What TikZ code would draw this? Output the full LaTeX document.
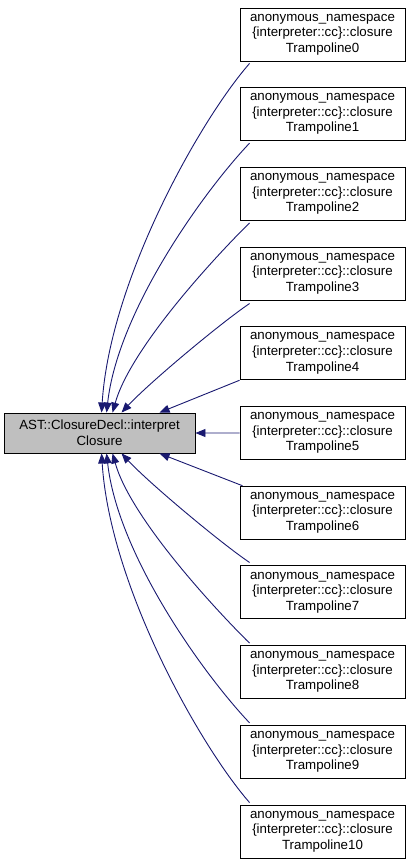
\documentclass[tikz,border=0pt]{standalone}
\usepackage{fontspec}
\setmainfont{Liberation Sans}
\usetikzlibrary{arrows.meta}
\definecolor{edgeblue}{RGB}{25,25,112}
\definecolor{boxgray}{RGB}{191,191,191}
\begin{document}
\begin{tikzpicture}[x=1pt,y=-1pt,
  fn/.style={draw=black,line width=0.9pt,fill=white,align=center,inner sep=0pt,
    minimum width=165pt,minimum height=53pt,font=\fontsize{13.3}{15.6}\selectfont},
  mainbox/.style={draw=black,line width=0.9pt,fill=boxgray,align=center,inner sep=0pt,
    minimum width=191pt,minimum height=40pt,font=\fontsize{13.3}{15.6}\selectfont},
  edge/.style={draw=edgeblue,line width=0.9pt,-{Triangle[length=10pt,width=8pt]}}]
\useasboundingbox (0,0) rectangle (411,867);
\node[mainbox] (L) at (99.5,433) {AST::ClosureDecl::interpret\\Closure};
\foreach \i in {0,...,10} {
  \node[fn] (n\i) at (322.5,{34.5+79.7*\i}) {anonymous\_namespace\\\{interpreter::cc\}::closure\\Trampoline\i};
}
% upper edges
\draw[edge] ([xshift=10pt,yshift=-2pt]n0.south west) .. controls (200,120) and (110,280) .. ([xshift=98pt]L.north west);
\draw[edge] ([xshift=10pt,yshift=-2pt]n1.south west) .. controls (205,190) and (118,310) .. ([xshift=103pt]L.north west);
\draw[edge] ([xshift=10pt,yshift=-2pt]n2.south west) .. controls (210,262) and (130,350) .. ([xshift=109pt]L.north west);
\draw[edge] ([xshift=10pt,yshift=-3pt]n3.south west) .. controls (222,322) and (150,382) .. ([xshift=118pt]L.north west);
\draw[edge] (n4.south west) -- ([xshift=156pt]L.north west);
\draw[edge] (n5.west) -- (L.east);
% lower edges
\draw[edge] ([xshift=3pt]n6.north west) -- ([xshift=156pt]L.south west);
\draw[edge] ([xshift=10pt,yshift=3pt]n7.north west) .. controls (222,544) and (150,484) .. ([xshift=118pt]L.south west);
\draw[edge] ([xshift=10pt,yshift=2pt]n8.north west) .. controls (210,604) and (130,516) .. ([xshift=109pt]L.south west);
\draw[edge] ([xshift=10pt,yshift=2pt]n9.north west) .. controls (205,676) and (118,556) .. ([xshift=103pt]L.south west);
\draw[edge] ([xshift=10pt,yshift=2pt]n10.north west) .. controls (200,746) and (110,586) .. ([xshift=98pt]L.south west);
\end{tikzpicture}
\end{document}
